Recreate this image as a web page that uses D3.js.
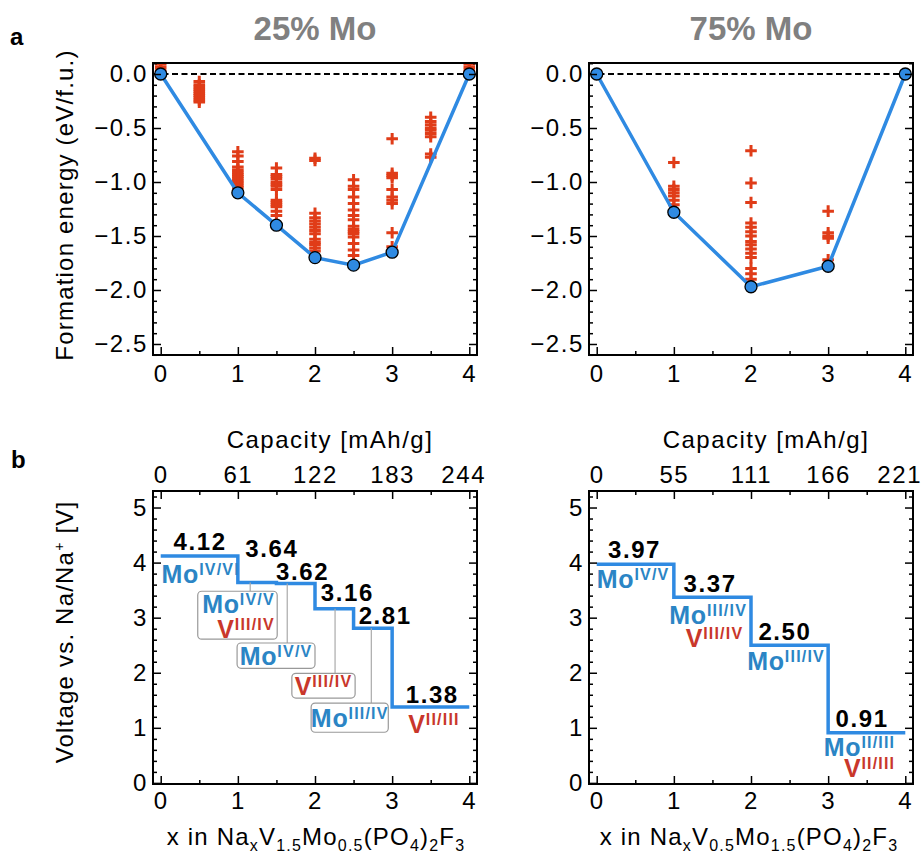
<!DOCTYPE html>
<html>
<head>
<meta charset="utf-8">
<script src="https://cdn.jsdelivr.net/npm/d3@7"></script>
<style>
  body { margin: 0; background: #fff; }
  text { font-family: "Liberation Sans", Arial, Helvetica, sans-serif; }
</style>
</head>
<body>
<svg id="fig" width="921" height="854"></svg>
<script>
// ---- data ----
var hullX25 = [0, 1, 1.5, 2, 2.5, 3, 4];
var hullE25 = [0, -1.10, -1.40, -1.70, -1.77, -1.65, 0];
var cfgX25 = [0, 0.5, 1, 1.5, 2, 2.5, 3, 3.5, 4];
var cfgE25 = [
  [0, 0.03, 0.06, 0.09],
  [-0.07, -0.1, -0.12, -0.14, -0.16, -0.18, -0.2, -0.22, -0.24, -0.26],
  [-0.72, -0.76, -0.81, -0.86, -0.89, -0.91, -0.93, -0.95, -0.97, -0.99, -1.01, -1.03, -1.05],
  [-0.87, -0.93, -0.95, -0.97, -1.0, -1.02, -1.04, -1.07, -1.17, -1.19, -1.21, -1.23, -1.27, -1.31],
  [-0.78, -0.8, -1.29, -1.33, -1.36, -1.39, -1.42, -1.45, -1.48, -1.53, -1.56, -1.58, -1.61, -1.64],
  [-0.98, -1.04, -1.07, -1.14, -1.2, -1.26, -1.31, -1.35, -1.41, -1.44, -1.46, -1.48, -1.51, -1.57, -1.63, -1.68],
  [-0.6, -0.92, -0.94, -0.96, -1.07, -1.14, -1.17, -1.2, -1.47, -1.6],
  [-0.4, -0.44, -0.47, -0.5, -0.52, -0.55, -0.58, -0.74, -0.77],
  [0, 0.03, 0.06, 0.09]
];

var hullX75 = [0, 1, 2, 3, 4];
var hullE75 = [0, -1.28, -1.97, -1.78, 0];
var cfgX75 = [1, 2, 3];
var cfgE75 = [
  [-0.82, -1.04, -1.07, -1.1, -1.13, -1.17, -1.21],
  [-0.71, -1.01, -1.19, -1.38, -1.42, -1.46, -1.5, -1.55, -1.58, -1.62, -1.66, -1.7, -1.8, -1.85, -1.9],
  [-1.27, -1.47, -1.5, -1.52, -1.72]
];

var stepX25 = [0, 1, 1.5, 2, 2.5, 3, 4];
var stepV25 = [4.12, 3.64, 3.62, 3.16, 2.81, 1.38];
var stepX75 = [0, 1, 2, 3, 4];
var stepV75 = [3.97, 3.37, 2.50, 0.91];

var xTicks = [0, 1, 2, 3, 4];
var cap25 = [0, 61, 122, 183, 244];
var cap75 = [0, 55, 111, 166, 221];
var eTicks = [0, -0.5, -1, -1.5, -2, -2.5];
var vTicks = [0, 1, 2, 3, 4, 5];

// ---- styling ----
var FONT = '"Liberation Sans", Arial, Helvetica, sans-serif';
var BLUE = "#2f8ae2", RED = "#e03c18", MO = "#2b85c5", VR = "#c9372b";

var svg = d3.select("#fig");

var xL = d3.scaleLinear().domain([-0.1, 4.1]).range([153, 477]);
var xR = d3.scaleLinear().domain([-0.1, 4.1]).range([589, 913]);
var yTop = d3.scaleLinear().domain([-2.602, 0.102]).range([355, 63]);
var yBot = d3.scaleLinear().domain([-0.02, 5.3]).range([784, 491]);

function ticks(gen, tx, ty, vals, size, pad, fmt) {
  var a = svg.append("g")
    .attr("transform", "translate(" + tx + "," + ty + ")")
    .call(gen.tickValues(vals).tickSize(size).tickPadding(pad).tickFormat(fmt || ""));
  a.select(".domain").remove();
  a.selectAll("line").attr("stroke", "#000").attr("stroke-width", 1.5);
  a.selectAll("text").attr("fill", "#000")
    .style("font-size", "24px").style("font-family", FONT).style("letter-spacing", "1.6px");
  return a;
}

function minorOf(scale, step, majors) {
  var d = scale.domain(), lo = Math.min(d[0], d[1]), hi = Math.max(d[0], d[1]);
  return d3.range(Math.ceil(lo / step - 1e-6), Math.floor(hi / step + 1e-6) + 1)
    .map(function(k) { return +(k * step).toFixed(3); })
    .filter(function(v) { return majors.every(function(m) { return Math.abs(m - v) > 1e-6; }); });
}

function frame(xs, ys, yMaj, yStep, yFmt, xPad, capLbl) {
  var x0 = xs.range()[0], x1 = xs.range()[1], y0 = ys.range()[1], y1 = ys.range()[0];
  var yMin = minorOf(ys, yStep, yMaj);
  var xMin = [0.5, 1.5, 2.5, 3.5];
  ticks(d3.axisLeft(ys), x0, 0, yMaj, -8, 5, yFmt);
  ticks(d3.axisLeft(ys), x0, 0, yMin, -4, 5);
  ticks(d3.axisRight(ys), x1, 0, yMaj, -8, 7);
  ticks(d3.axisRight(ys), x1, 0, yMin, -4, 7);
  ticks(d3.axisBottom(xs), 0, y1, xTicks, -8, xPad, d3.format("d"));
  ticks(d3.axisBottom(xs), 0, y1, xMin, -4, xPad);
  if (capLbl) {
    var t = ticks(d3.axisTop(xs), 0, y0, xTicks, -8, 8, function(d, i) { return capLbl[i]; });
    t.selectAll("text").filter(function(d) { return d === 4; }).attr("dx", -6);
    ticks(d3.axisTop(xs), 0, y0, xMin, -4, 8);
  }
  svg.append("rect").attr("x", x0).attr("y", y0)
    .attr("width", x1 - x0).attr("height", y1 - y0)
    .attr("fill", "none").attr("stroke", "#000").attr("stroke-width", 2);
}

// ---- formation energy panels ----
function hullPanel(xs, hx, he, cx, ce, id) {
  var x0 = xs.range()[0], x1 = xs.range()[1];
  svg.append("clipPath").attr("id", id).append("rect")
    .attr("x", x0).attr("y", yTop.range()[1])
    .attr("width", x1 - x0).attr("height", yTop.range()[0] - yTop.range()[1]);
  var g = svg.append("g").attr("clip-path", "url(#" + id + ")");

  var pts = [];
  cx.forEach(function(x, i) { ce[i].forEach(function(e) { pts.push([x, e]); }); });
  g.selectAll("path.cfg").data(pts).enter().append("path")
    .attr("class", "cfg")
    .attr("transform", function(d) { return "translate(" + xs(d[0]) + "," + yTop(d[1]) + ")"; })
    .attr("d", "M-5.8,0H5.8M0,-5.8V5.8")
    .attr("stroke", RED).attr("stroke-width", 3).attr("fill", "none");

  g.append("line").attr("x1", x0).attr("x2", x1)
    .attr("y1", yTop(0)).attr("y2", yTop(0))
    .attr("stroke", "#000").attr("stroke-width", 2).attr("stroke-dasharray", "6,3.5");

  var line = d3.line().x(function(d) { return xs(d[0]); }).y(function(d) { return yTop(d[1]); });
  var hp = hx.map(function(x, i) { return [x, he[i]]; });
  g.append("path").datum(hp).attr("d", line)
    .attr("fill", "none").attr("stroke", BLUE).attr("stroke-width", 3.5);
  g.selectAll("circle").data(hp).enter().append("circle")
    .attr("cx", function(d) { return xs(d[0]); })
    .attr("cy", function(d) { return yTop(d[1]); })
    .attr("r", 6).attr("fill", BLUE).attr("stroke", "#000").attr("stroke-width", 1.3);

  frame(xs, yTop, eTicks, 0.1, d3.format(".1f"), 10, null);
}

hullPanel(xL, hullX25, hullE25, cfgX25, cfgE25, "c25");
hullPanel(xR, hullX75, hullE75, cfgX75, cfgE75, "c75");

// ---- voltage panels ----
function stepPanel(xs, sx, sv, cap) {
  var pts = [];
  sv.forEach(function(v, i) { pts.push([sx[i], v]); pts.push([sx[i + 1], v]); });
  svg.append("path").datum(pts)
    .attr("d", d3.line().x(function(d) { return xs(d[0]); }).y(function(d) { return yBot(d[1]); }))
    .attr("fill", "none").attr("stroke", BLUE).attr("stroke-width", 3.5);
  frame(xs, yBot, vTicks, 0.2, d3.format("d"), 8, cap);
}

function valueLabels(xs, sv, lx, off) {
  sv.forEach(function(v, i) {
    svg.append("text").attr("x", xs(lx[i])).attr("y", yBot(v) - off[i])
      .attr("text-anchor", "middle").attr("font-weight", "bold")
      .style("font-size", "24px").style("letter-spacing", "1.6px")
      .attr("fill", "#000").text(v.toFixed(2));
  });
}

function ox(xs, x, v, base, sup, color, anchor) {
  var t = svg.append("text").attr("x", xs(x)).attr("y", yBot(v))
    .attr("text-anchor", anchor || "start").attr("font-weight", "bold").attr("fill", color)
    .style("letter-spacing", "0.8px");
  t.append("tspan").style("font-size", "25px").text(base);
  t.append("tspan").attr("dy", -8).style("font-size", "16px").style("letter-spacing", "1.2px").text(sup);
  return t;
}

function box(xs, bx0, bx1, bv0, bv1, lineX, stepV) {
  svg.append("line").attr("x1", xs(lineX)).attr("x2", xs(lineX))
    .attr("y1", yBot(stepV)).attr("y2", yBot(bv0))
    .attr("stroke", "#aaa").attr("stroke-width", 1.2);
  svg.append("rect").attr("x", xs(bx0)).attr("y", yBot(bv0))
    .attr("width", xs(bx1) - xs(bx0)).attr("height", yBot(bv1) - yBot(bv0))
    .attr("rx", 4).attr("fill", "#fff").attr("stroke", "#999").attr("stroke-width", 1.2);
}

stepPanel(xL, stepX25, stepV25, cap25);
stepPanel(xR, stepX75, stepV75, cap75);

valueLabels(xL, stepV25, [0.51, 1.44, 1.84, 2.42, 2.91, 3.52], [6, 25, 4, 8, 4, 4]);
valueLabels(xR, stepV75, [0.49, 1.47, 2.44, 3.44], [6, 5, 5, 6]);

// left annotations
ox(xL, 0.01, 3.63, "Mo", "IV/VI", MO);
box(xL, 0.48, 1.51, 3.48, 2.61, 1.16, 3.64);
ox(xL, 1.48, 3.08, "Mo", "IV/V", MO, "end");
ox(xL, 1.48, 2.64, "V", "III/IV", VR, "end");
box(xL, 0.99, 2.0, 2.54, 2.08, 1.64, 3.62);
ox(xL, 1.495, 2.14, "Mo", "IV/V", MO, "middle");
box(xL, 1.70, 2.52, 1.99, 1.54, 2.26, 3.16);
ox(xL, 2.11, 1.60, "V", "III/IV", VR, "middle");
box(xL, 1.95, 2.95, 1.45, 0.92, 2.73, 2.81);
ox(xL, 2.45, 1.02, "Mo", "III/IV", MO, "middle");
ox(xL, 3.21, 0.90, "V", "II/III", VR);

// right annotations
ox(xR, 0.0, 3.54, "Mo", "IV/V", MO);
ox(xR, 0.94, 2.88, "Mo", "III/IV", MO);
ox(xR, 1.90, 2.46, "V", "III/IV", VR, "end");
ox(xR, 1.95, 2.05, "Mo", "III/IV", MO);
ox(xR, 3.87, 0.49, "Mo", "II/III", MO, "end");
ox(xR, 3.87, 0.10, "V", "II/III", VR, "end");

// ---- titles and axis labels ----
function label(x, y, str, size, weight, color, rot, ls) {
  return svg.append("text").attr("x", x).attr("y", y)
    .attr("text-anchor", "middle").attr("font-weight", weight || "normal")
    .attr("fill", color || "#000").style("font-size", size + "px")
    .style("letter-spacing", (ls || 0) + "px")
    .attr("transform", rot ? "rotate(-90," + x + "," + y + ")" : null)
    .text(str);
}

label(315, 40, "25% Mo", 33, "bold", "#808080");
label(751, 40, "75% Mo", 33, "bold", "#808080");
svg.append("text").attr("x", 10).attr("y", 45).attr("font-weight", "bold").style("font-size", "24px").text("a");
svg.append("text").attr("x", 11).attr("y", 468).attr("font-weight", "bold").style("font-size", "24px").text("b");

label(73, 205, "Formation energy (eV/f.u.)", 24, "normal", "#000", true, 1.2);
var vl = label(73, 632, "Voltage vs. Na/Na", 24, "normal", "#000", true, 1.2);
vl.append("tspan").attr("dy", -9).style("font-size", "14px").text("+");
vl.append("tspan").attr("dy", 9).text(" [V]");

label(330, 448, "Capacity [mAh/g]", 24, "normal", "#000", false, 1.5);
label(766, 448, "Capacity [mAh/g]", 24, "normal", "#000", false, 1.5);

function formula(x, parts) {
  var t = svg.append("text").attr("x", x).attr("y", 845)
    .attr("text-anchor", "middle").style("font-size", "24px").attr("fill", "#000")
    .style("letter-spacing", "1.2px");
  parts.forEach(function(p, i) {
    if (i % 2 === 0) {
      t.append("tspan").attr("dy", i === 0 ? 0 : -6).text(p);
    } else {
      t.append("tspan").attr("dy", 6).style("font-size", "16px").text(p);
    }
  });
}
formula(316, ["x in Na", "x", "V", "1.5", "Mo", "0.5", "(PO", "4", ")", "2", "F", "3"]);
formula(749, ["x in Na", "x", "V", "0.5", "Mo", "1.5", "(PO", "4", ")", "2", "F", "3"]);
</script>
</body>
</html>
